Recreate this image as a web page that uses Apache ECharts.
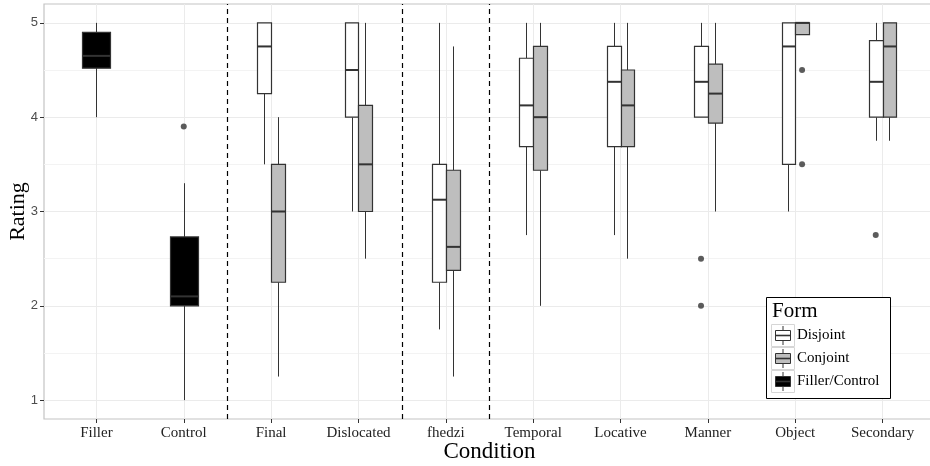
<!DOCTYPE html>
<html>
<head>
<meta charset="utf-8">
<script src="https://cdn.jsdelivr.net/npm/echarts@6/dist/echarts.min.js"></script>
<style>
html,body{margin:0;padding:0;background:#fff;}
#chart{width:930px;height:466px;}
</style>
</head>
<body>
<div id="chart"></div>
<script>
// ---- data ----
const categories = ['Filler','Control','Final','Dislocated','fhedzi','Temporal','Locative','Manner','Object','Secondary'];
// [min, q1, median, q3, max] per category (null = no box)
const disjointStats = [
  null, null,
  [3.5, 4.25, 4.75, 5, 5],
  [3, 4, 4.5, 5, 5],
  [1.75, 2.25, 3.125, 3.5, 5],
  [2.75, 3.6875, 4.125, 4.625, 5],
  [2.75, 3.6875, 4.375, 4.75, 5],
  [4, 4, 4.375, 4.75, 5],
  [3, 3.5, 4.75, 5, 5],
  [3.75, 4, 4.375, 4.8125, 5]
];
const conjointStats = [
  null, null,
  [1.25, 2.25, 3, 3.5, 4],
  [2.5, 3, 3.5, 4.125, 5],
  [1.25, 2.375, 2.625, 3.4375, 4.75],
  [2, 3.4375, 4, 4.75, 5],
  [2.5, 3.6875, 4.125, 4.5, 5],
  [3, 3.9375, 4.25, 4.5625, 5],
  [4.875, 4.875, 5, 5, 5],
  [3.75, 4, 4.75, 5, 5]
];
const fillerControlStats = [
  [4, 4.52, 4.65, 4.9, 5],
  [1, 2, 2.1, 2.73, 3.3],
  null, null, null, null, null, null, null, null
];
const disjointOutliers = [['Manner', 2.5], ['Manner', 2], ['Secondary', 2.75]];
const conjointOutliers = [['Object', 4.5], ['Object', 3.5]];
const fillerControlOutliers = [['Control', 3.9]];
const yTicks = [1, 2, 3, 4, 5];
const yMinorTicks = [1.5, 2.5, 3.5, 4.5];
const separators = [1.5, 3.5, 4.5];
const legendTitle = 'Form';
const seriesNames = ['Disjoint', 'Conjoint', 'Filler/Control'];

// ---- style ----
const fills = { 'Disjoint': '#ffffff', 'Conjoint': '#bebebe', 'Filler/Control': '#000000' };
const DODGE = 0.0785;      // half of dodged box width, in category units
const offsets = { 'Disjoint': -DODGE, 'Conjoint': DODGE, 'Filler/Control': 0 };
const halfWidths = { 'Disjoint': DODGE, 'Conjoint': DODGE, 'Filler/Control': 0.16 };
const SERIF = '"Liberation Serif", "DejaVu Serif", serif';
const SANS = '"Liberation Sans", Arial, sans-serif';
const EDGE = '#333333';

function boxData(stats) {
  const out = [];
  stats.forEach((s, i) => { if (s) out.push([i].concat(s)); });
  return out;
}
function outlierData(list, name) {
  return list.map(o => [categories.indexOf(o[0]) + offsets[name], o[1]]);
}

function makeRender(name) {
  const off = offsets[name], hw = halfWidths[name], fill = fills[name];
  return function (params, api) {
    const x = api.value(0) + off;
    const left = Math.round(api.coord([x - hw, 0])[0]) + 0.5;
    const right = Math.round(api.coord([x + hw, 0])[0]) + 0.5;
    const cx = Math.round(api.coord([x, 0])[0]) + 0.5;
    const yMin = api.coord([x, api.value(1)])[1];
    const yQ1 = api.coord([x, api.value(2)])[1];
    const yMed = api.coord([x, api.value(3)])[1];
    const yQ3 = api.coord([x, api.value(4)])[1];
    const yMax = api.coord([x, api.value(5)])[1];
    const ls = { stroke: EDGE, lineWidth: 1 };
    return {
      type: 'group',
      children: [
        { type: 'line', shape: { x1: cx, y1: yMax, x2: cx, y2: yQ3 }, style: ls },
        { type: 'line', shape: { x1: cx, y1: yQ1, x2: cx, y2: yMin }, style: ls },
        { type: 'rect', shape: { x: left, y: yQ3, width: right - left, height: yQ1 - yQ3 },
          style: { fill: fill, stroke: EDGE, lineWidth: 1.2 } },
        { type: 'line', shape: { x1: left, y1: yMed, x2: right, y2: yMed },
          style: { stroke: EDGE, lineWidth: 2 } }
      ]
    };
  };
}

const gridLineData = []
  .concat(yTicks.map(v => ({ yAxis: v, lineStyle: { color: '#ebebeb', width: 1, type: 'solid' } })))
  .concat(yMinorTicks.map(v => ({ yAxis: v, lineStyle: { color: '#f3f3f3', width: 1, type: 'solid' } })))
  .concat(categories.map((c, i) => ({ xAxis: i, lineStyle: { color: '#ebebeb', width: 1, type: 'solid' } })));

const series = [
  {
    type: 'line', data: [], z: 0, silent: true,
    markLine: { silent: true, z: 0, symbol: 'none', label: { show: false }, animation: false, data: gridLineData }
  },
  {
    type: 'line', data: [], z: 20, silent: true,
    markLine: { silent: true, z: 20, symbol: 'none', label: { show: false }, animation: false,
      data: separators.map(v => ({ xAxis: v })),
      lineStyle: { color: '#000', width: 1.2, type: [5, 4] } }
  }
];
seriesNames.forEach((name, k) => {
  const stats = [disjointStats, conjointStats, fillerControlStats][k];
  const outs = [disjointOutliers, conjointOutliers, fillerControlOutliers][k];
  series.push({
    name: name, type: 'custom', z: 10,
    renderItem: makeRender(name),
    encode: { x: 0, y: [1, 2, 3, 4, 5] },
    data: boxData(stats)
  });
  series.push({
    name: name + ' outliers', type: 'scatter', z: 11,
    symbol: 'circle', symbolSize: 6,
    itemStyle: { color: EDGE },
    data: outlierData(outs, name)
  });
});

const idx = categories.map((c, i) => i);

const option = {
  animation: false,
  backgroundColor: '#fff',
  grid: { left: 44, right: -5, top: 4, bottom: 47, containLabel: false, outerBoundsMode: 'none',
          show: true, borderColor: '#c4c4c4', borderWidth: 1.2, backgroundColor: 'transparent' },
  xAxis: {
    type: 'value', min: -0.6, max: 9.6,
    name: 'Condition', nameLocation: 'middle', nameGap: 21, nameMoveOverlap: false,
    nameTextStyle: { fontFamily: SERIF, fontSize: 23, color: '#000' },
    axisLine: { show: false, onZero: false },
    splitLine: { show: false },
    axisTick: { show: true, length: 4, lineStyle: { color: '#333' }, customValues: idx },
    axisLabel: { customValues: idx, formatter: v => categories[Math.round(v)] || '', fontFamily: SERIF, fontSize: 15, color: '#222', margin: 7 }
  },
  yAxis: {
    type: 'value', min: 0.8, max: 5.2,
    name: 'Rating', nameLocation: 'middle', nameGap: 15, nameRotate: 90, nameMoveOverlap: false,
    nameTextStyle: { fontFamily: SERIF, fontSize: 22, color: '#000' },
    axisLine: { show: false, onZero: false },
    splitLine: { show: false },
    axisTick: { show: true, length: 4, lineStyle: { color: '#333' }, customValues: yTicks },
    axisLabel: { customValues: yTicks, fontFamily: SANS, fontSize: 13, color: '#4d4d4d', margin: 6 }
  },
  series: series,
  graphic: []
};

// legend drawn as graphic
const lg = [];
lg.push({ type: 'rect', left: 766, top: 297, shape: { width: 124, height: 101 }, style: { fill: '#fff', stroke: '#000', lineWidth: 1 }, z: 30 });
lg.push({ type: 'text', left: 772, top: 301, style: { text: legendTitle, font: '21px ' + SERIF, fill: '#000' }, z: 31 });
seriesNames.forEach((name, i) => {
  const y0 = 324 + i * 23;
  lg.push({ type: 'rect', shape: { x: 771.5, y: y0 + 0.5, width: 23, height: 22 }, style: { fill: '#fff', stroke: '#d6d6d6', lineWidth: 1 }, z: 31 });
  lg.push({ type: 'line', shape: { x1: 783, y1: y0 + 2, x2: 783, y2: y0 + 21 }, style: { stroke: EDGE, lineWidth: 1 }, z: 32 });
  lg.push({ type: 'rect', shape: { x: 775.5, y: y0 + 6.5, width: 15, height: 10 }, style: { fill: fills[name], stroke: EDGE, lineWidth: 1 }, z: 33 });
  lg.push({ type: 'line', shape: { x1: 775.5, y1: y0 + 11.5, x2: 790.5, y2: y0 + 11.5 }, style: { stroke: EDGE, lineWidth: 1.6 }, z: 34 });
  lg.push({ type: 'text', left: 797, top: y0 + 4, style: { text: name, font: '15px ' + SERIF, fill: '#000' }, z: 32 });
});
option.graphic = lg;

const chart = echarts.init(document.getElementById('chart'), null, { renderer: 'canvas' });
chart.setOption(option);
</script>
</body>
</html>
